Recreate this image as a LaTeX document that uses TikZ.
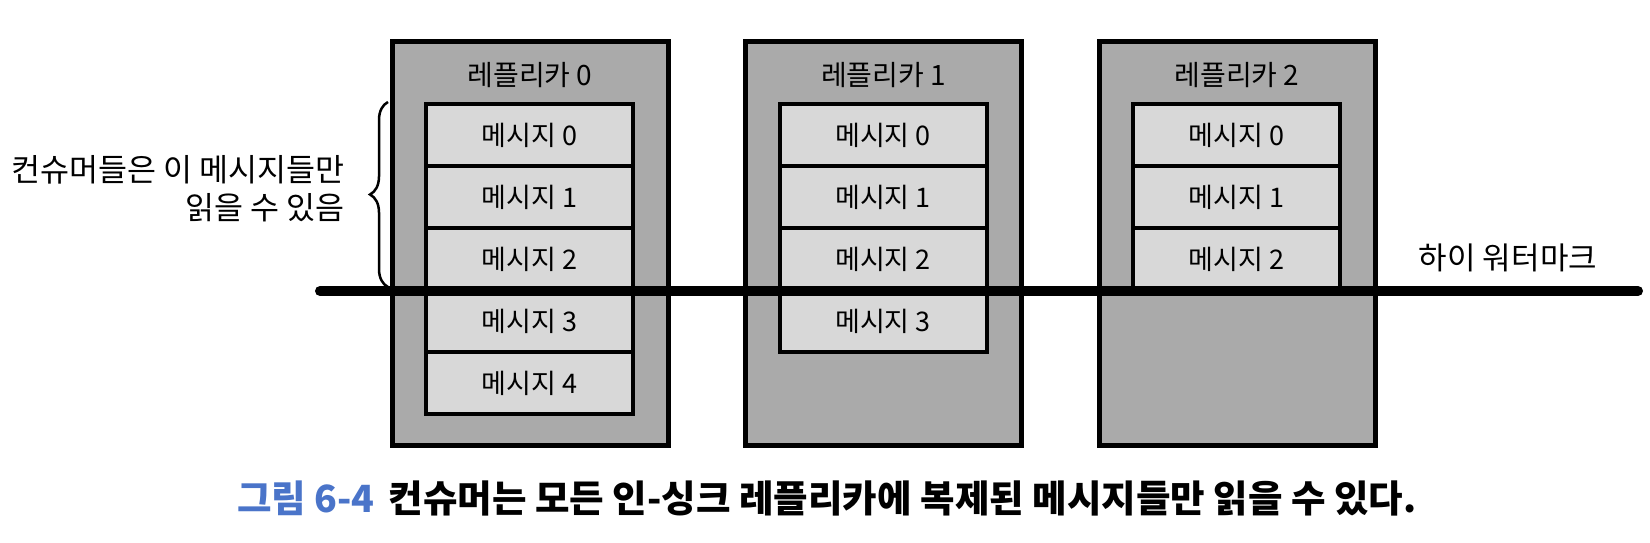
\documentclass[tikz,border=0pt]{standalone}
\usepackage{fontspec}
\setmainfont{Noto Sans CJK KR}
\usetikzlibrary{decorations.pathreplacing}
\definecolor{outergray}{RGB}{170,170,170}
\definecolor{msggray}{RGB}{216,216,216}
\definecolor{capblue}{RGB}{74,116,201}
\tikzset{
  replica/.style={draw=black, fill=outergray, line width=5pt, minimum width=276pt, minimum height=403pt, inner sep=0pt},
  msgbox/.style={draw=black, fill=msggray, line width=4pt, minimum width=207pt, minimum height=62pt, inner sep=0pt, font=\fontsize{27}{29}\selectfont},
  rtitle/.style={inner sep=0pt, font=\fontsize{28}{30}\selectfont},
  note/.style={inner sep=0pt, align=right, font=\fontsize{31.5}{38}\selectfont},
  wm/.style={inner sep=0pt, font=\fontsize{31}{33}\selectfont},
  hwline/.style={line width=10pt, line cap=round},
  bracestyle/.style={line width=2.5pt, decorate, decoration={brace, amplitude=18pt}}
}
\begin{document}
\begin{tikzpicture}[x=1pt,y=-1pt]
\useasboundingbox (0,0) rectangle (1650,543);
% replicas
\node[replica] (r0) at (530,243.5) {};
\node[replica] (r1) at (883.5,243.5) {};
\node[replica] (r2) at (1237,243.5) {};
\node[rtitle] (t0) at (530,75) {레플리카 0};
\node[rtitle] (t1) at (883.5,75) {레플리카 1};
\node[rtitle] (t2) at (1237,75) {레플리카 2};
% replica 0 messages
\node[msgbox] (a0) at (529.5,135) {메시지 0};
\node[msgbox] (a1) at (529.5,197) {메시지 1};
\node[msgbox] (a2) at (529.5,259) {메시지 2};
\node[msgbox] (a3) at (529.5,321) {메시지 3};
\node[msgbox] (a4) at (529.5,383) {메시지 4};
% replica 1 messages
\node[msgbox] (b0) at (883,135) {메시지 0};
\node[msgbox] (b1) at (883,197) {메시지 1};
\node[msgbox] (b2) at (883,259) {메시지 2};
\node[msgbox] (b3) at (883,321) {메시지 3};
% replica 2 messages
\node[msgbox] (c0) at (1236.5,135) {메시지 0};
\node[msgbox] (c1) at (1236.5,197) {메시지 1};
\node[msgbox] (c2) at (1236.5,259) {메시지 2};
% high watermark
\coordinate (hwL) at (320,291);
\coordinate (hwR) at (1638,291);
\draw[hwline] (hwL) -- (hwR);
\node[wm] (wmt) at (1508,258) {하이 워터마크};
% brace and note
\coordinate (bb) at (388,287);
\coordinate (bt) at (388,102);
\draw[bracestyle] (bb) -- (bt);
\node[note, anchor=east] (nt) at (345,189) {컨슈머들은 이 메시지들만\\읽을 수 있음};
% caption
\node[inner sep=0pt, anchor=west, font=\fontsize{37.5}{40}\selectfont\bfseries] (cap) at (237,498)
  {\textcolor{capblue}{그림 6-4}\hspace{14pt}컨슈머는 모든 인-싱크 레플리카에 복제된 메시지들만 읽을 수 있다.};
\end{tikzpicture}
\end{document}
